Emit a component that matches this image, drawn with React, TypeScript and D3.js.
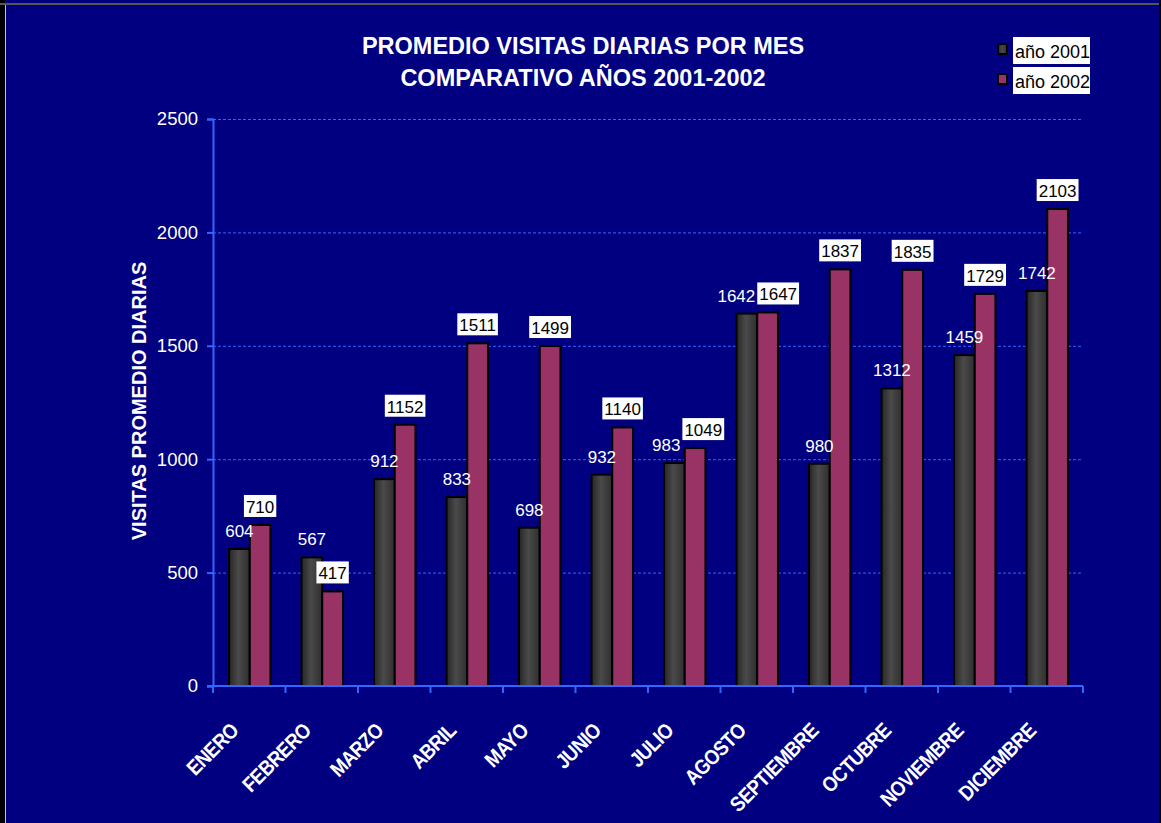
import React, { useRef, useEffect } from "react";
import * as d3 from "d3";

const months = [
  "ENERO", "FEBRERO", "MARZO", "ABRIL", "MAYO", "JUNIO",
  "JULIO", "AGOSTO", "SEPTIEMBRE", "OCTUBRE", "NOVIEMBRE", "DICIEMBRE",
];
const visits2001 = [604, 567, 912, 833, 698, 932, 983, 1642, 980, 1312, 1459, 1742];
const visits2002 = [710, 417, 1152, 1511, 1499, 1140, 1049, 1647, 1837, 1835, 1729, 2103];
const yTicks = [0, 500, 1000, 1500, 2000, 2500];
const seriesNames = ["año 2001", "año 2002"];
const titleLines = ["PROMEDIO VISITAS DIARIAS POR MES", "COMPARATIVO AÑOS 2001-2002"];

const W = 1161;
const H = 823;
const FONT = "'Liberation Sans', Arial, sans-serif";
const AXIS = "#3366ff";

const App = () => {
  const svgRef = useRef<SVGSVGElement>(null);

  useEffect(() => {
    const svg = d3.select(svgRef.current);
    svg.selectAll("*").remove();

    const margin = { top: 119, right: 78, bottom: 137, left: 213 };
    const x = d3
      .scaleBand()
      .domain(months)
      .range([margin.left, W - margin.right])
      .padding(0);
    const y = d3
      .scaleLinear()
      .domain([0, 2500])
      .range([H - margin.bottom, margin.top]);
    const barW = x.bandwidth() / 3.5;
    const cx = (m: string) => (x(m) as number) + x.bandwidth() / 2 + 0.5;

    // background + frame
    svg.append("rect").attr("width", W).attr("height", H).attr("fill", "#000080");
    svg.append("rect").attr("x", 0).attr("y", 0).attr("width", 5).attr("height", H).attr("fill", "#000");
    svg.append("line").attr("x1", 5.5).attr("x2", 5.5).attr("y1", 5).attr("y2", H).attr("stroke", "#c0c0c0");
    svg.append("rect").attr("x", 0).attr("y", 3).attr("width", W).attr("height", 2).attr("fill", "#555");
    svg.append("rect").attr("x", W - 2).attr("y", 0).attr("width", 2).attr("height", H).attr("fill", "#000");

    const defs = svg.append("defs");
    const grad = defs
      .append("linearGradient")
      .attr("id", "gray3d")
      .attr("x1", "0%").attr("x2", "100%").attr("y1", "0%").attr("y2", "0%");
    grad.append("stop").attr("offset", "0%").attr("stop-color", "#262626");
    grad.append("stop").attr("offset", "45%").attr("stop-color", "#4a4a4a");
    grad.append("stop").attr("offset", "100%").attr("stop-color", "#2e2e2e");

    // title
    titleLines.forEach((t, i) => {
      svg
        .append("text")
        .attr("x", 583)
        .attr("y", 54 + i * 32)
        .attr("text-anchor", "middle")
        .attr("fill", "#fff")
        .attr("font-family", FONT)
        .attr("font-weight", "bold")
        .attr("font-size", 23.5)
        .text(t);
    });

    // grid
    svg
      .append("g")
      .selectAll("line")
      .data(yTicks.filter((d) => d > 0))
      .enter()
      .append("line")
      .attr("x1", margin.left)
      .attr("x2", W - margin.right)
      .attr("y1", (d) => y(d) + 0.5)
      .attr("y2", (d) => y(d) + 0.5)
      .attr("stroke", AXIS)
      .attr("stroke-width", 1)
      .attr("stroke-dasharray", "3,2");

    // bars
    const bars = svg.append("g");
    bars
      .selectAll("rect.s1")
      .data(visits2001)
      .enter()
      .append("rect")
      .attr("x", (d, i) => cx(months[i]) - barW)
      .attr("y", (d) => y(d))
      .attr("width", barW)
      .attr("height", (d) => y(0) - y(d))
      .attr("fill", "url(#gray3d)")
      .attr("stroke", "#000")
      .attr("stroke-width", 2);
    bars
      .selectAll("rect.s2")
      .data(visits2002)
      .enter()
      .append("rect")
      .attr("x", (d, i) => cx(months[i]))
      .attr("y", (d) => y(d))
      .attr("width", barW)
      .attr("height", (d) => y(0) - y(d))
      .attr("fill", "#993366")
      .attr("stroke", "#000")
      .attr("stroke-width", 2);

    // axes
    const yAxis = svg
      .append("g")
      .attr("transform", `translate(${margin.left}, 0)`)
      .call(
        d3.axisLeft(y).tickValues(yTicks).tickFormat(d3.format("d")).tickSize(6).tickPadding(9)
      );
    yAxis.select(".domain").attr("stroke", AXIS).attr("stroke-width", 2);
    yAxis.selectAll(".tick line").attr("stroke", AXIS).attr("stroke-width", 2);
    yAxis
      .selectAll(".tick text")
      .attr("fill", "#fff")
      .attr("font-family", FONT)
      .attr("font-size", 18.5);

    const xAxisG = svg.append("g").attr("transform", `translate(0, ${y(0)})`);
    xAxisG
      .append("line")
      .attr("x1", margin.left - 6)
      .attr("x2", W - margin.right)
      .attr("stroke", AXIS)
      .attr("stroke-width", 2);
    const bounds = months.map((m) => x(m) as number).concat([W - margin.right]);
    xAxisG
      .selectAll("line.tk")
      .data(bounds)
      .enter()
      .append("line")
      .attr("x1", (d) => d)
      .attr("x2", (d) => d)
      .attr("y1", 0)
      .attr("y2", 7)
      .attr("stroke", AXIS)
      .attr("stroke-width", 2);

    svg
      .append("g")
      .selectAll("text")
      .data(months)
      .enter()
      .append("text")
      .attr("transform", (m) => `translate(${cx(m) - 10}, ${y(0) + 46}) rotate(-45) scale(0.88, 1)`)
      .attr("text-anchor", "end")
      .attr("fill", "#fff")
      .attr("font-family", FONT)
      .attr("font-weight", "bold")
      .attr("font-size", 21)
      .attr("letter-spacing", -0.6)
      .text((m) => m);

    // y axis title
    svg
      .append("text")
      .attr("transform", `translate(146, 401) rotate(-90)`)
      .attr("text-anchor", "middle")
      .attr("fill", "#fff")
      .attr("font-family", FONT)
      .attr("font-weight", "bold")
      .attr("font-size", 20)
      .text("VISITAS PROMEDIO DIARIAS");

    // data labels 2001
    const lab1 = svg
      .append("g")
      .selectAll("text")
      .data(visits2001)
      .enter()
      .append("text")
      .attr("x", (d, i) => cx(months[i]) - barW / 2)
      .attr("y", (d) => y(d) - 12)
      .attr("text-anchor", "middle")
      .attr("fill", "#fff")
      .attr("font-family", FONT)
      .attr("font-size", 17)
      .text((d) => d);

    // data labels 2002 (boxed)
    const lab2 = svg
      .append("g")
      .selectAll("g")
      .data(visits2002)
      .enter()
      .append("g");
    const bg = lab2.append("rect").attr("fill", "#fff");
    const txt = lab2
      .append("text")
      .attr("text-anchor", "middle")
      .attr("fill", "#000")
      .attr("font-family", FONT)
      .attr("font-size", 17)
      .text((d) => d);

    const w1 = lab1.nodes().map((n) => (n as SVGTextElement).getComputedTextLength());
    txt.each(function (d, i) {
      const w = (this as SVGTextElement).getComputedTextLength();
      d3.select(bg.nodes()[i])
        .attr("x", -w / 2 - 2)
        .attr("y", -18)
        .attr("width", w + 4)
        .attr("height", 22);
      // push labels apart when they sit at the same height
      let c1 = cx(months[i]) - barW / 2;
      let c2 = cx(months[i]) + barW / 2;
      const y1 = y(visits2001[i]) - 12;
      const y2 = y(d) - 12;
      const need = w1[i] / 2 + w / 2 + 2 + 2;
      if (Math.abs(y1 - y2) < 18 && c2 - c1 < need) {
        const shift = (need - (c2 - c1)) / 2;
        c1 -= shift;
        c2 += shift;
        d3.select(lab1.nodes()[i]).attr("x", c1);
      }
      d3.select(lab2.nodes()[i]).attr("transform", `translate(${c2}, ${y2})`);
    });

    // legend
    const legendColors = ["url(#gray3d)", "#993366"];
    seriesNames.forEach((name, i) => {
      const g = svg.append("g").attr("transform", `translate(0, ${i * 30})`);
      g.append("rect")
        .attr("x", 1013)
        .attr("y", 37)
        .attr("width", 77)
        .attr("height", 27)
        .attr("fill", "#fff");
      g.append("rect")
        .attr("x", 998)
        .attr("y", 44)
        .attr("width", 9)
        .attr("height", 10)
        .attr("fill", legendColors[i])
        .attr("stroke", "#000")
        .attr("stroke-width", 2);
      g.append("text")
        .attr("x", 1015)
        .attr("y", 58)
        .attr("fill", "#000")
        .attr("font-family", FONT)
        .attr("font-size", 18)
        .text(name);
    });
  }, []);

  return (
    <div style={{ position: "absolute", left: 0, top: 0 }}>
      <svg ref={svgRef} width={W} height={H} style={{ display: "block" }}></svg>
    </div>
  );
};

export default App;
